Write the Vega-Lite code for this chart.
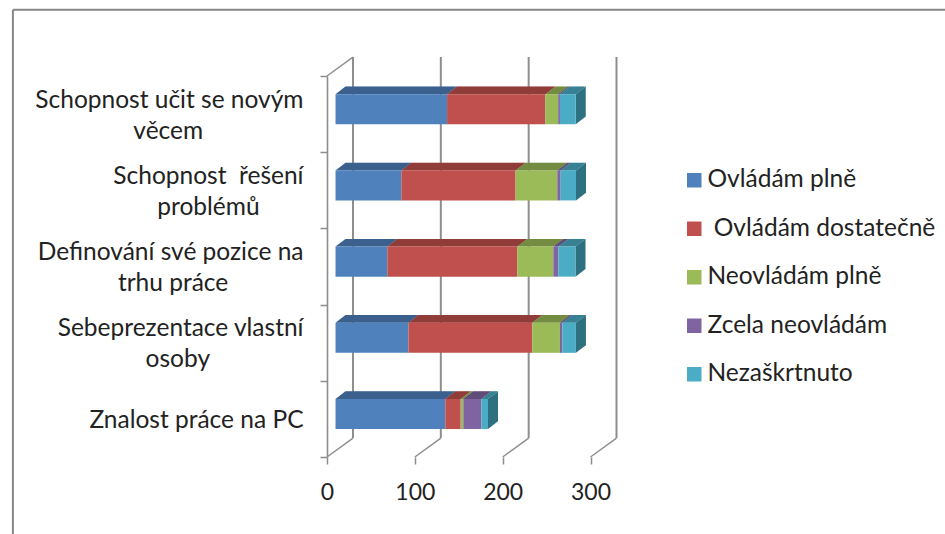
{
  "$schema": "https://vega.github.io/schema/vega-lite/v6.json",
  "width": 263.5,
  "height": 381,
  "autosize": "none",
  "padding": {"left": 327, "top": 76, "right": 354.5, "bottom": 77},
  "background": "white",
  "config": {"view": {"stroke": null}, "font": "Lato"},
  "datasets": {
    "rows": [
      {"category": "Schopnost učit se novým věcem", "slot": 4, "series": "Ovládám plně", "order": 1, "value": 127},
      {"category": "Schopnost učit se novým věcem", "slot": 4, "series": "\u200b\u00a0Ovládám dostatečně", "order": 2, "value": 112},
      {"category": "Schopnost učit se novým věcem", "slot": 4, "series": "Neovládám plně", "order": 3, "value": 14.5},
      {"category": "Schopnost učit se novým věcem", "slot": 4, "series": "Zcela neovládám", "order": 4, "value": 2},
      {"category": "Schopnost učit se novým věcem", "slot": 4, "series": "Nezaškrtnuto", "order": 5, "value": 18},
      {"category": "Schopnost řešení problémů", "slot": 3, "series": "Ovládám plně", "order": 1, "value": 75},
      {"category": "Schopnost řešení problémů", "slot": 3, "series": "\u200b\u00a0Ovládám dostatečně", "order": 2, "value": 130},
      {"category": "Schopnost řešení problémů", "slot": 3, "series": "Neovládám plně", "order": 3, "value": 47.5},
      {"category": "Schopnost řešení problémů", "slot": 3, "series": "Zcela neovládám", "order": 4, "value": 3.8},
      {"category": "Schopnost řešení problémů", "slot": 3, "series": "Nezaškrtnuto", "order": 5, "value": 17.5},
      {"category": "Definování své pozice na trhu práce", "slot": 2, "series": "Ovládám plně", "order": 1, "value": 59},
      {"category": "Definování své pozice na trhu práce", "slot": 2, "series": "\u200b\u00a0Ovládám dostatečně", "order": 2, "value": 148},
      {"category": "Definování své pozice na trhu práce", "slot": 2, "series": "Neovládám plně", "order": 3, "value": 41},
      {"category": "Definování své pozice na trhu práce", "slot": 2, "series": "Zcela neovládám", "order": 4, "value": 5.7},
      {"category": "Definování své pozice na trhu práce", "slot": 2, "series": "Nezaškrtnuto", "order": 5, "value": 19.5},
      {"category": "Sebeprezentace vlastní osoby", "slot": 1, "series": "Ovládám plně", "order": 1, "value": 83},
      {"category": "Sebeprezentace vlastní osoby", "slot": 1, "series": "\u200b\u00a0Ovládám dostatečně", "order": 2, "value": 141},
      {"category": "Sebeprezentace vlastní osoby", "slot": 1, "series": "Neovládám plně", "order": 3, "value": 31.5},
      {"category": "Sebeprezentace vlastní osoby", "slot": 1, "series": "Zcela neovládám", "order": 4, "value": 2.7},
      {"category": "Sebeprezentace vlastní osoby", "slot": 1, "series": "Nezaškrtnuto", "order": 5, "value": 15.5},
      {"category": "Znalost práce na PC", "slot": 0, "series": "Ovládám plně", "order": 1, "value": 125},
      {"category": "Znalost práce na PC", "slot": 0, "series": "\u200b\u00a0Ovládám dostatečně", "order": 2, "value": 17.5},
      {"category": "Znalost práce na PC", "slot": 0, "series": "Neovládám plně", "order": 3, "value": 3},
      {"category": "Znalost práce na PC", "slot": 0, "series": "Zcela neovládám", "order": 4, "value": 20.5},
      {"category": "Znalost práce na PC", "slot": 0, "series": "Nezaškrtnuto", "order": 5, "value": 7.6}
    ],
    "labels": [
      {"label": "Schopnost učit se novým|věcem\u00a0\u00a0\u00a0\u00a0\u00a0\u00a0\u00a0\u00a0\u00a0\u00a0\u00a0\u00a0\u00a0\u00a0\u00a0\u00a0\u200b"},
      {"label": "Schopnost \u00a0řešení|problémů\u00a0\u00a0\u00a0\u00a0\u00a0\u00a0\u00a0\u200b"},
      {"label": "Definování své pozice na|trhu práce\u00a0\u00a0\u00a0\u00a0\u00a0\u00a0\u00a0\u00a0\u00a0\u00a0\u00a0\u00a0\u200b"},
      {"label": "Sebeprezentace vlastní|osoby\u00a0\u00a0\u00a0\u00a0\u00a0\u00a0\u00a0\u00a0\u00a0\u00a0\u00a0\u00a0\u00a0\u00a0\u00a0\u200b"},
      {"label": "Znalost práce na PC"}
    ],
    "grid": [{"g": 0}, {"g": 100}, {"g": 200}, {"g": 300}]
  },
  "resolve": {"scale": {"y": "independent"}},
  "layer": [
    {
      "layer": [
        {
          "data": {"values": [{"frame": "left"}]},
          "mark": {"type": "rule", "color": "#868686", "strokeWidth": 2},
          "encoding": {
            "x": {"datum": -357.6, "type": "quantitative", "scale": {"domain": [0, 300]}, "axis": {"values": [0, 100, 200, 300], "title": null, "grid": false, "domain": false, "tickColor": "#8c8c8c", "tickWidth": 1.5, "tickSize": 7, "labelFont": "Lato", "labelFontSize": 23, "labelColor": "#222222", "labelPadding": 17, "labelFlush": false, "labelOverlap": false}},
            "y": {"datum": -1.1, "type": "quantitative", "scale": {"domain": [0, 5]}, "axis": null},
            "y2": {"datum": 5.87}
          }
        },
        {
          "data": {"values": [{"frame": "top"}]},
          "mark": {"type": "rule", "color": "#868686", "strokeWidth": 2},
          "encoding": {
            "x": {"datum": -357.6, "type": "quantitative"},
            "x2": {"datum": 720},
            "y": {"datum": 5.87, "type": "quantitative"}
          }
        },
        {
          "data": {"name": "grid"},
          "transform": [{"calculate": "datum.g + 29.6", "as": "gb"}],
          "mark": {"type": "rule", "color": "#8e8e8e", "strokeWidth": 2},
          "encoding": {
            "x": {"field": "gb", "type": "quantitative"},
            "y": {"datum": 0.249, "type": "quantitative"},
            "y2": {"datum": 5.249}
          }
        },
        {
          "data": {"name": "grid"},
          "transform": [{"calculate": "datum.g + 29.6", "as": "gb"}],
          "mark": {"type": "rule", "color": "#8e8e8e", "strokeWidth": 1.5},
          "encoding": {
            "x": {"field": "g", "type": "quantitative"},
            "x2": {"field": "gb"},
            "y": {"datum": 0, "type": "quantitative"},
            "y2": {"datum": 0.249}
          }
        },
        {
          "data": {"values": [{"edge": "top"}]},
          "mark": {"type": "rule", "color": "#8e8e8e", "strokeWidth": 1.5},
          "encoding": {
            "x": {"datum": 0, "type": "quantitative"},
            "x2": {"datum": 29.6},
            "y": {"datum": 5, "type": "quantitative"},
            "y2": {"datum": 5.249}
          }
        },
        {
          "data": {"name": "rows"},
          "transform": [
            {"stack": "value", "groupby": ["slot"], "sort": [{"field": "order", "order": "ascending"}], "as": ["v0", "v1"]},
            {"calculate": "datum.v0 + 9.7", "as": "xa"},
            {"calculate": "datum.v1 + 9.7", "as": "xb"},
            {"calculate": "datum.slot + 0.367", "as": "ya"},
            {"calculate": "datum.slot + 0.761", "as": "yb"},
            {"calculate": "datum.slot + '-' + datum.order", "as": "key"}
          ],
          "layer": [
            {
              "transform": [
                {"calculate": "[0, 1]", "as": "d"},
                {"flatten": ["d"]},
                {"calculate": "datum.xa + datum.d * 11.4", "as": "tx"},
                {"calculate": "datum.xb + datum.d * 11.4", "as": "tx2"},
                {"calculate": "datum.yb + datum.d * 0.101", "as": "ty"}
              ],
              "mark": {"type": "area", "orient": "horizontal"},
              "encoding": {
                "x": {"field": "tx", "type": "quantitative", "stack": null},
                "x2": {"field": "tx2"},
                "y": {"field": "ty", "type": "quantitative"},
                "detail": {"field": "key"},
                "color": {"field": "series", "type": "nominal", "scale": {"domain": ["Ovládám plně", "\u200b\u00a0Ovládám dostatečně", "Neovládám plně", "Zcela neovládám", "Nezaškrtnuto"], "range": ["#4f81bd", "#c0504d", "#9bbb59", "#8064a2", "#4bacc6"]},
                  "legend": {"title": null, "orient": "none", "legendX": 355, "legendY": 92, "symbolType": "square", "symbolSize": 210, "symbolStrokeWidth": 0, "labelFont": "Lato", "labelFontSize": 24.5, "labelColor": "#222222", "labelOffset": 1, "rowPadding": 23.5, "labelLimit": 300}}
              }
            },
            {
              "transform": [
                {"calculate": "[0, 1]", "as": "d"},
                {"flatten": ["d"]},
                {"calculate": "datum.xa + datum.d * 11.4", "as": "tx"},
                {"calculate": "datum.xb + datum.d * 11.4", "as": "tx2"},
                {"calculate": "datum.yb + datum.d * 0.101", "as": "ty"}
              ],
              "mark": {"type": "area", "orient": "horizontal", "color": "black", "opacity": 0.25},
              "encoding": {
                "x": {"field": "tx", "type": "quantitative", "stack": null},
                "x2": {"field": "tx2"},
                "y": {"field": "ty", "type": "quantitative"},
                "detail": {"field": "key"}
              }
            },
            {
              "transform": [
                {"filter": "datum.order == 5"},
                {"calculate": "[0, 1]", "as": "d"},
                {"flatten": ["d"]},
                {"calculate": "datum.xb + datum.d * 11.4", "as": "sx"},
                {"calculate": "datum.ya + datum.d * 0.101", "as": "sy"},
                {"calculate": "datum.yb + datum.d * 0.101", "as": "sy2"}
              ],
              "mark": {"type": "area", "orient": "vertical", "color": "#2d7080"},
              "encoding": {
                "x": {"field": "sx", "type": "quantitative"},
                "y": {"field": "sy", "type": "quantitative", "stack": null},
                "y2": {"field": "sy2"},
                "detail": {"field": "key"}
              }
            },
            {
              "mark": {"type": "rect"},
              "encoding": {
                "x": {"field": "xa", "type": "quantitative"},
                "x2": {"field": "xb"},
                "y": {"field": "ya", "type": "quantitative"},
                "y2": {"field": "yb"},
                "color": {
                  "field": "series",
                  "type": "nominal",
                  "scale": {"domain": ["Ovládám plně", "\u200b\u00a0Ovládám dostatečně", "Neovládám plně", "Zcela neovládám", "Nezaškrtnuto"], "range": ["#4f81bd", "#c0504d", "#9bbb59", "#8064a2", "#4bacc6"]},
                  "legend": {"title": null, "orient": "none", "legendX": 355, "legendY": 92, "symbolType": "square", "symbolSize": 210, "symbolStrokeWidth": 0, "labelFont": "Lato", "labelFontSize": 24.5, "labelColor": "#222222", "labelOffset": 1, "rowPadding": 23.5, "labelLimit": 300}
                }
              }
            }
          ]
        }
      ]
    },
    {
      "data": {"name": "labels"},
      "mark": {"type": "point", "opacity": 0},
      "encoding": {
        "y": {
          "field": "label",
          "type": "nominal",
          "sort": null,
          "scale": {"paddingInner": 0, "paddingOuter": 0},
          "axis": {"title": null, "orient": "left", "domainColor": "#8c8c8c", "domainWidth": 1.6, "tickColor": "#8c8c8c", "tickWidth": 1.5, "tickSize": 7, "tickBand": "extent", "labelPadding": 17, "labelFont": "Lato", "labelFontSize": 24.5, "labelColor": "#222222", "labelLimit": 320, "labelLineHeight": 31, "labelExpr": "split(datum.label, '|')", "labelOffset": {"expr": "indexof(datum.label, '|') >= 0 ? -14 : 2"}}
        }
      }
    }
  ]
}
